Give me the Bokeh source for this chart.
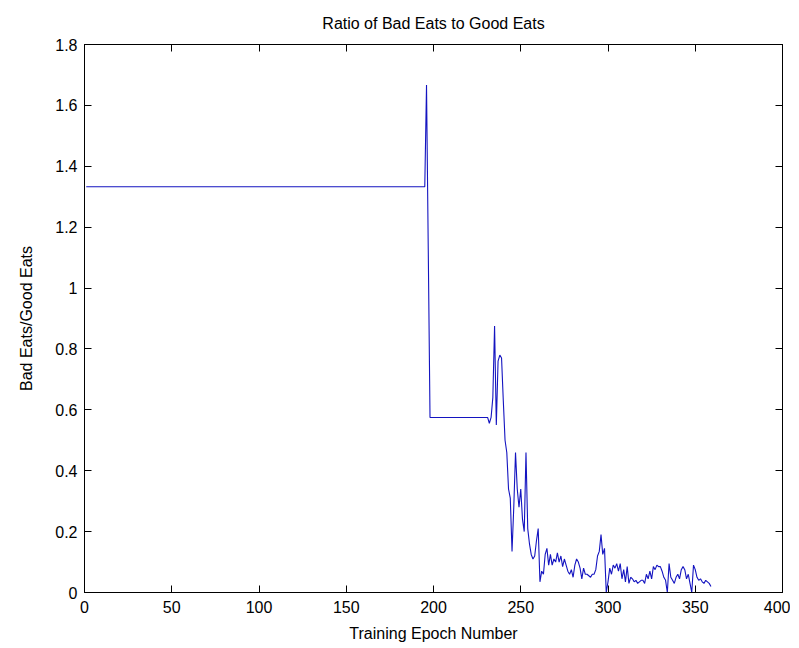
from bokeh.plotting import figure
from bokeh.models import LinearAxis, FixedTicker, Range1d
from bokeh.embed import file_html
from bokeh.resources import INLINE

# ---- data ----
# plateau phase (epoch, ratio)
plateau_epochs = [1, 195, 196, 197, 198, 230]
plateau_ratio = [1.333, 1.333, 1.667, 1.125, 0.575, 0.575]

# noisy phase, one value per epoch starting at epoch 231
noisy_start = 231
noisy_ratio = [
    0.575, 0.556, 0.575, 0.64, 0.875, 0.55, 0.76, 0.78, 0.77, 0.63,   # 231-240
    0.50, 0.46, 0.34, 0.31, 0.135, 0.28, 0.46, 0.34, 0.28, 0.34,      # 241-250
    0.24, 0.20, 0.46, 0.21, 0.16, 0.125, 0.11, 0.12, 0.17, 0.21,      # 251-260
    0.035, 0.07, 0.06, 0.125, 0.145, 0.09, 0.125, 0.09, 0.11, 0.10,   # 261-270
    0.13, 0.10, 0.12, 0.085, 0.11, 0.09, 0.07, 0.06, 0.075, 0.05,     # 271-280
    0.09, 0.11, 0.10, 0.08, 0.045, 0.08, 0.06, 0.06, 0.055, 0.05,     # 281-290
    0.06, 0.06, 0.075, 0.12, 0.135, 0.19, 0.125, 0.145, 0.0, 0.035,   # 291-300
    0.08, 0.06, 0.09, 0.08, 0.095, 0.07, 0.095, 0.045, 0.075, 0.035,  # 301-310
    0.085, 0.03, 0.05, 0.045, 0.035, 0.04, 0.03, 0.035, 0.04, 0.04,   # 311-320
    0.03, 0.06, 0.045, 0.07, 0.045, 0.085, 0.075, 0.09, 0.085, 0.085, # 321-330
    0.07, 0.05, 0.04, 0.0, 0.095, 0.05, 0.04, 0.03, 0.05, 0.06,       # 331-340
    0.045, 0.075, 0.085, 0.075, 0.045, 0.06, 0.03, 0.0, 0.09, 0.075,  # 341-350
    0.05, 0.04, 0.045, 0.035, 0.03, 0.04, 0.035, 0.03, 0.02,          # 351-359
]

x_ticks = [0, 50, 100, 150, 200, 250, 300, 350, 400]
y_ticks = [0, 0.2, 0.4, 0.6, 0.8, 1, 1.2, 1.4, 1.6, 1.8]
y_tick_labels = ["0", "0.2", "0.4", "0.6", "0.8", "1", "1.2", "1.4", "1.6", "1.8"]

title_text = "Ratio of Bad Eats to Good Eats"
x_label = "Training Epoch Number"
y_label = "Bad Eats/Good Eats"

epochs = plateau_epochs + list(range(noisy_start, noisy_start + len(noisy_ratio)))
ratios = plateau_ratio + noisy_ratio

FONT = "Liberation Sans"
FS = "16px"

p = figure(width=790, height=644, output_backend="svg", toolbar_location=None,
           x_range=Range1d(0, 400), y_range=Range1d(0, 1.8),
           min_border_left=84, min_border_top=44, min_border_right=8, min_border_bottom=41)
p.title.text = title_text
p.title.align = "center"
p.title.text_font = FONT
p.title.text_font_size = FS
p.title.text_font_style = "normal"
p.title.text_color = "black"
p.title.standoff = 25

p.line(epochs, ratios, line_color="#1414c0", line_width=1.1)

p.xgrid.visible = False
p.ygrid.visible = False
p.outline_line_color = "black"
p.outline_line_width = 1
p.outline_line_alpha = 1
p.background_fill_color = "white"
p.border_fill_color = "white"

overrides = {t: l for t, l in zip(y_ticks, y_tick_labels)}

for ax in p.xaxis:
    ax.ticker = FixedTicker(ticks=x_ticks)
for ax in p.yaxis:
    ax.ticker = FixedTicker(ticks=y_ticks)
    ax.major_label_overrides = overrides

for ax in list(p.xaxis) + list(p.yaxis):
    ax.major_tick_in = 7
    ax.major_tick_out = 0
    ax.minor_tick_in = 0
    ax.minor_tick_out = 0
    ax.axis_line_color = "black"
    ax.major_tick_line_color = "black"
    ax.major_label_text_font = FONT
    ax.major_label_text_font_size = FS
    ax.major_label_text_color = "black"
    ax.axis_label_text_font = FONT
    ax.axis_label_text_font_size = FS
    ax.axis_label_text_font_style = "normal"
    ax.axis_label_text_color = "black"

p.xaxis.axis_label = x_label
p.yaxis.axis_label = y_label
p.xaxis.major_label_standoff = 8
p.yaxis.major_label_standoff = 7
p.xaxis.axis_label_standoff = 9
p.yaxis.axis_label_standoff = 17

# ticks on the top and right edges (box on), with blank labels
top = LinearAxis(ticker=FixedTicker(ticks=x_ticks),
                 major_label_overrides={t: "" for t in x_ticks},
                 major_tick_in=7, major_tick_out=0, minor_tick_in=0, minor_tick_out=0,
                 axis_line_color="black", major_label_standoff=0)
right = LinearAxis(ticker=FixedTicker(ticks=y_ticks),
                   major_label_overrides={t: "" for t in y_ticks},
                   major_tick_in=7, major_tick_out=0, minor_tick_in=0, minor_tick_out=0,
                   axis_line_color="black", major_label_standoff=0)
p.add_layout(top, "above")
p.add_layout(right, "right")

open("out.html", "w").write(file_html(p, INLINE))
